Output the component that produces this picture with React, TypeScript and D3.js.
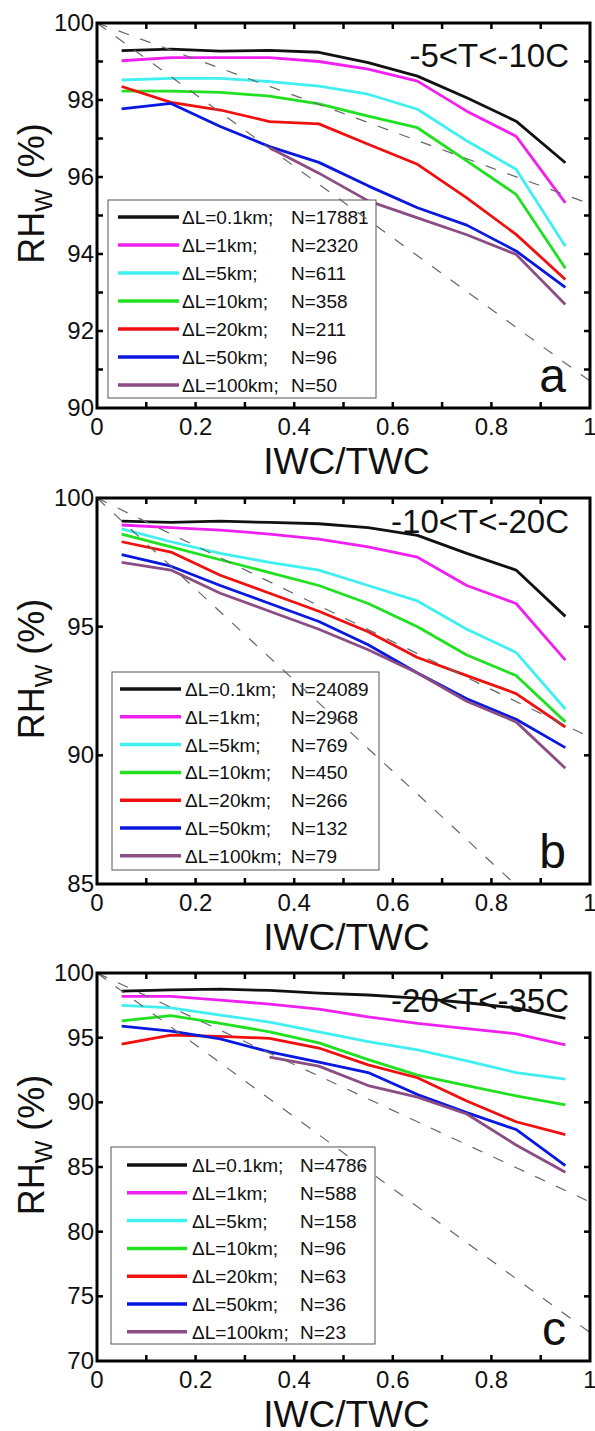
import React from "react";
import * as d3 from "d3";

// ---------- data ----------
const iwcFraction = [0.05, 0.15, 0.25, 0.35, 0.45, 0.55, 0.65, 0.75, 0.85, 0.95];

const dLLabels = ["ΔL=0.1km;", "ΔL=1km;", "ΔL=5km;", "ΔL=10km;", "ΔL=20km;", "ΔL=50km;", "ΔL=100km;"];
const seriesColors = ["#111111", "#f020f0", "#40f0f0", "#20e020", "#f01010", "#0818e0", "#8c4c84"];

const nA = [17881, 2320, 611, 358, 211, 96, 50];
const nB = [24089, 2968, 769, 450, 266, 132, 79];
const nC = [4786, 588, 158, 96, 63, 36, 23];

const tempLabels = ["-5<T<-10C", "-10<T<-20C", "-20<T<-35C"];
const panelLetters = ["a", "b", "c"];

// panel a : -5 < T < -10 C
const a01 = [99.28, 99.32, 99.27, 99.29, 99.24, 98.97, 98.62, 98.06, 97.45, 96.37];
const a1 = [99.02, 99.1, 99.1, 99.1, 99.0, 98.8, 98.49, 97.71, 97.06, 95.33];
const a5 = [98.52, 98.56, 98.56, 98.48, 98.36, 98.15, 97.76, 96.94, 96.2, 94.2];
const a10 = [98.23, 98.23, 98.2, 98.1, 97.9, 97.58, 97.28, 96.42, 95.55, 93.63];
const a20 = [98.35, 97.94, 97.74, 97.44, 97.38, 96.85, 96.33, 95.46, 94.51, 93.34];
const a50 = [97.77, 97.91, 97.31, 96.79, 96.38, 95.77, 95.2, 94.75, 94.08, 93.13];
const a100 = [null, null, null, 96.76, 96.1, 95.38, 94.94, 94.5, 93.99, 92.69];

// panel b : -10 < T < -20 C
const b01 = [99.1, 99.05, 99.1, 99.05, 99.0, 98.85, 98.55, 97.85, 97.2, 95.4];
const b1 = [98.95, 98.85, 98.75, 98.6, 98.4, 98.1, 97.7, 96.6, 95.9, 93.7];
const b5 = [98.8, 98.3, 97.85, 97.5, 97.2, 96.6, 96.0, 94.9, 94.0, 91.8];
const b10 = [98.6, 98.1, 97.6, 97.1, 96.6, 95.9, 95.0, 93.9, 93.1, 91.3];
const b20 = [98.3, 97.9, 97.0, 96.3, 95.6, 94.8, 93.8, 93.1, 92.4, 91.1];
const b50 = [97.8, 97.35, 96.6, 95.9, 95.2, 94.3, 93.2, 92.2, 91.4, 90.3];
const b100 = [97.5, 97.2, 96.3, 95.6, 94.9, 94.1, 93.2, 92.1, 91.3, 89.5];

// panel c : -20 < T < -35 C
const c01 = [98.6, 98.7, 98.75, 98.65, 98.45, 98.3, 98.05, 97.7, 97.3, 96.5];
const c1 = [98.2, 98.2, 97.9, 97.6, 97.2, 96.6, 96.1, 95.7, 95.3, 94.45];
const c5 = [97.5, 97.3, 96.75, 96.2, 95.45, 94.7, 94.05, 93.2, 92.3, 91.8];
const c10 = [96.3, 96.7, 96.1, 95.45, 94.6, 93.3, 92.1, 91.3, 90.5, 89.8];
const c20 = [94.5, 95.2, 95.1, 94.95, 94.2, 92.9, 91.9, 90.1, 88.5, 87.5];
const c50 = [95.9, 95.5, 94.9, 93.9, 93.1, 92.3, 90.6, 89.2, 87.9, 85.1];
const c100 = [null, null, null, 93.5, 92.8, 91.3, 90.4, 89.1, 86.7, 84.6];

// dashed reference lines: RHw at IWC/TWC = 1 (ice saturation at the bounding temperatures)
const dashEndsA = [95.3, 90.7];
const dashEndsB = [90.7, 82.3];
const dashEndsC = [82.3, 72.2];

// axes
const xTickMarks = [0.1, 0.2, 0.3, 0.4, 0.5, 0.6, 0.7, 0.8, 0.9];
const xTickValues = [0, 0.2, 0.4, 0.6, 0.8, 1];
const xTickLabels = ["0", "0.2", "0.4", "0.6", "0.8", "1"];
const yTicksA = [90, 92, 94, 96, 98, 100];
const yMarksA = [91, 92, 93, 94, 95, 96, 97, 98, 99];
const yTicksB = [85, 90, 95, 100];
const yMarksB = [90, 95];
const yTicksC = [70, 75, 80, 85, 90, 95, 100];
const yMarksC = [75, 80, 85, 90, 95];

const FONT = "'Liberation Sans', Arial, Helvetica, sans-serif";

type LegendCfg = {
  bx0: number; bx1: number; by0: number; by1: number;
  row0: number; step: number; lx0: number; lx1: number; tx: number; nx: number;
};

type PanelProps = {
  id: string;
  top: number;
  bottom: number;
  yDomain: [number, number];
  yTicks: number[];
  yMarks: number[];
  values: (number | null)[][];
  nValues: number[];
  dashEnds: number[];
  temp: string;
  tempBase: number;
  letter: string;
  legend: LegendCfg;
};

const X0 = 97;
const X1 = 590;

function Panel(p: PanelProps) {
  const x = d3.scaleLinear().domain([0, 1]).range([X0, X1]);
  const y = d3.scaleLinear().domain(p.yDomain).range([p.bottom, p.top]);
  const line = d3
    .line<number | null>()
    .defined((v) => v != null)
    .x((_, i) => x(iwcFraction[i]))
    .y((v) => y(v as number));
  const tl = 6;
  const lg = p.legend;
  const midY = (p.top + p.bottom) / 2;
  return (
    <g>
      <defs>
        <clipPath id={p.id}>
          <rect x={X0} y={p.top} width={X1 - X0} height={p.bottom - p.top} />
        </clipPath>
      </defs>
      {/* data lines */}
      <g clipPath={`url(#${p.id})`}>
        {p.values.map((vals, i) => (
          <path key={i} d={line(vals) || ""} fill="none" stroke={seriesColors[i]} strokeWidth={2.8} strokeLinejoin="round" />
        ))}
      </g>
      {/* legend */}
      <rect x={lg.bx0} y={lg.by0} width={lg.bx1 - lg.bx0} height={lg.by1 - lg.by0} fill="white" stroke="#555" strokeWidth={1} />
      {dLLabels.map((lab, i) => {
        const ry = lg.row0 + i * lg.step;
        return (
          <g key={i}>
            <line x1={lg.lx0} x2={lg.lx1} y1={ry} y2={ry} stroke={seriesColors[i]} strokeWidth={3.5} />
            <text x={lg.tx} y={ry + 7} fontFamily={FONT} fontSize={19} fill="#111">{lab}</text>
            <text x={lg.nx} y={ry + 7} fontFamily={FONT} fontSize={19} fill="#111">{`N=${p.nValues[i]}`}</text>
          </g>
        );
      })}
      {/* dashed lines */}
      <g clipPath={`url(#${p.id})`}>
        {p.dashEnds.map((v, i) => (
          <line key={i} x1={x(0)} y1={y(100)} x2={x(1)} y2={y(v)} stroke="#666" strokeWidth={1.2} strokeDasharray="11,12" />
        ))}
      </g>
      {/* frame */}
      <rect x={X0} y={p.top} width={X1 - X0} height={p.bottom - p.top} fill="none" stroke="#000" strokeWidth={3} />
      {xTickMarks.map((t) => (
        <g key={t}>
          <line x1={x(t)} x2={x(t)} y1={p.bottom} y2={p.bottom - tl} stroke="#000" strokeWidth={2.5} />
          <line x1={x(t)} x2={x(t)} y1={p.top} y2={p.top + tl} stroke="#000" strokeWidth={2.5} />
        </g>
      ))}
      {p.yMarks.map((t) => (
        <g key={t}>
          <line x1={X0} x2={X0 + tl} y1={y(t)} y2={y(t)} stroke="#000" strokeWidth={2.5} />
          <line x1={X1} x2={X1 - tl} y1={y(t)} y2={y(t)} stroke="#000" strokeWidth={2.5} />
        </g>
      ))}
      {/* tick labels */}
      {xTickValues.map((t, i) => (
        <text key={t} x={x(t)} y={p.bottom + 27} textAnchor="middle" fontFamily={FONT} fontSize={24} fill="#111">
          {xTickLabels[i]}
        </text>
      ))}
      {p.yTicks.map((t) => (
        <text key={t} x={X0 - 3} y={y(t) + 8} textAnchor="end" fontFamily={FONT} fontSize={24} fill="#111">
          {t}
        </text>
      ))}
      {/* axis titles */}
      <text x={(X0 + X1) / 2 + 3} y={p.bottom + 66} textAnchor="middle" fontFamily={FONT} fontSize={37} fill="#111">
        IWC/TWC
      </text>
      <text
        transform={`translate(44,${midY - 22}) rotate(-90)`}
        textAnchor="middle"
        fontFamily={FONT}
        fontSize={36}
        fill="#111"
      >
        RH
        <tspan fontSize={24} dy={8}>W</tspan>
        <tspan dy={-8}> (%)</tspan>
      </text>
      {/* labels */}
      <text x={569} y={p.top + p.tempBase} textAnchor="end" fontFamily={FONT} fontSize={33} fill="#111">
        {p.temp}
      </text>
      <text x={566} y={p.bottom - 16} textAnchor="end" fontFamily={FONT} fontSize={48} fill="#111">
        {p.letter}
      </text>
    </g>
  );
}

export default function App() {
  return (
    <svg
      width={595}
      height={1431}
      viewBox="0 0 595 1431"
      style={{ position: "absolute", left: 0, top: 0, background: "#fff" }}
    >
      <rect x={0} y={0} width={595} height={1431} fill="#fff" />
      <Panel
        id="clipA"
        top={23}
        bottom={408}
        yDomain={[90, 100]}
        yTicks={yTicksA}
        yMarks={yMarksA}
        values={[a01, a1, a5, a10, a20, a50, a100]}
        nValues={nA}
        dashEnds={dashEndsA}
        temp={tempLabels[0]}
        tempBase={44}
        letter={panelLetters[0]}
        legend={{ bx0: 108, bx1: 376, by0: 200, by1: 398, row0: 217, step: 28, lx0: 118, lx1: 179, tx: 182, nx: 291 }}
      />
      <Panel
        id="clipB"
        top={498}
        bottom={884}
        yDomain={[85, 100]}
        yTicks={yTicksB}
        yMarks={yMarksB}
        values={[b01, b1, b5, b10, b20, b50, b100]}
        nValues={nB}
        dashEnds={dashEndsB}
        temp={tempLabels[1]}
        tempBase={35}
        letter={panelLetters[1]}
        legend={{ bx0: 112, bx1: 379, by0: 672, by1: 870, row0: 689, step: 27.8, lx0: 120, lx1: 181, tx: 185, nx: 291 }}
      />
      <Panel
        id="clipC"
        top={973}
        bottom={1361}
        yDomain={[70, 100]}
        yTicks={yTicksC}
        yMarks={yMarksC}
        values={[c01, c1, c5, c10, c20, c50, c100]}
        nValues={nC}
        dashEnds={dashEndsC}
        temp={tempLabels[2]}
        tempBase={39}
        letter={panelLetters[2]}
        legend={{ bx0: 111, bx1: 375, by0: 1147, by1: 1344, row0: 1165, step: 27.8, lx0: 127, lx1: 187, tx: 192, nx: 300 }}
      />
    </svg>
  );
}
